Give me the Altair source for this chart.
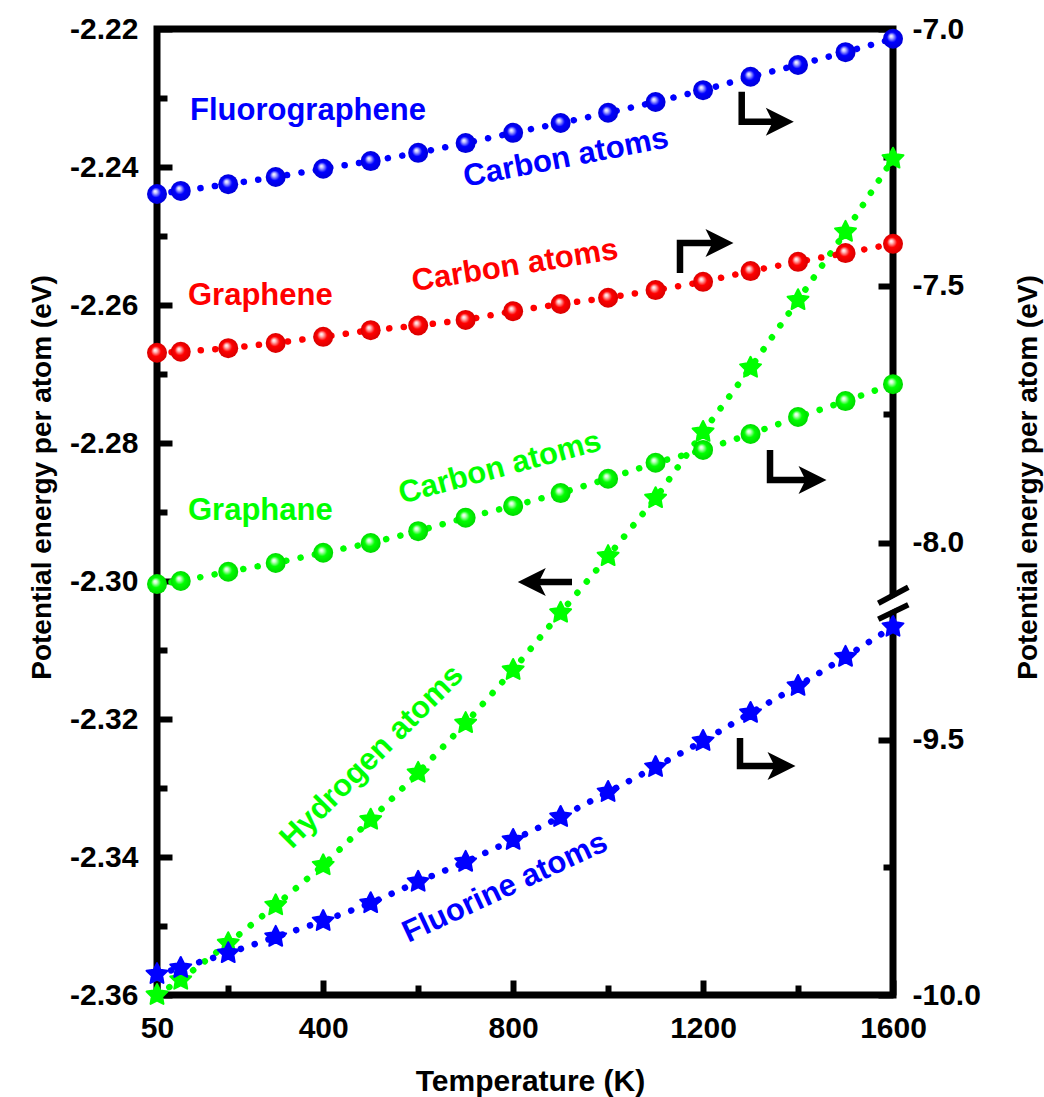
import altair as alt
import pandas as pd

# ---------------- data ----------------
T = [50, 100, 200, 300, 400, 500, 600, 700, 800, 900, 1000, 1100, 1200, 1300, 1400, 1500, 1600]
fluorographene_C = [-7.321, -7.315, -7.302, -7.288, -7.272, -7.257, -7.241, -7.222, -7.202,
                    -7.183, -7.163, -7.142, -7.119, -7.093, -7.070, -7.045, -7.019]
graphene_C = [-7.630, -7.628, -7.621, -7.611, -7.599, -7.586, -7.577, -7.566, -7.549,
              -7.535, -7.523, -7.508, -7.492, -7.471, -7.453, -7.436, -7.418]
graphane_C = [-8.080, -8.074, -8.056, -8.039, -8.019, -8.000, -7.977, -7.951, -7.928,
              -7.903, -7.875, -7.844, -7.819, -7.788, -7.755, -7.724, -7.691]
graphane_H = [-2.3600, -2.3578, -2.3525, -2.3470, -2.3412, -2.3346, -2.3278, -2.3206, -2.3129,
              -2.3046, -2.2964, -2.2880, -2.2784, -2.2691, -2.2593, -2.2494, -2.2388]
fluorographene_F = [-9.959, -9.947, -9.918, -9.886, -9.855, -9.820, -9.778, -9.739, -9.696,
                    -9.651, -9.602, -9.553, -9.502, -9.447, -9.394, -9.337, -9.278]

x_ticks_major = [50, 400, 800, 1200, 1600]
x_ticks_minor = [200, 600, 1000, 1400]
yl_ticks_major = [-2.36, -2.34, -2.32, -2.30, -2.28, -2.26, -2.24, -2.22]
yl_ticks_minor = [-2.35, -2.33, -2.31, -2.29, -2.27, -2.25, -2.23]
yr_top_major = [-8.0, -7.5, -7.0]
yr_top_minor = [-7.75, -7.25]
yr_bot_major = [-10.0, -9.5]
yr_bot_minor = [-9.75]

BLUE, RED, GREEN = "#0000ff", "#ff0000", "#00ff00"

# horizontal labels (left-axis coordinates)
hlab_text = ["Fluorographene", "Graphene", "Graphane"]
hlab_x = [119.5, 115.3, 115.3]
hlab_y = [-2.2332, -2.2600, -2.2912]
hlab_color = [BLUE, RED, GREEN]

# rotated labels (centre, left-axis coordinates)
rlab_text = ["Carbon atoms", "Carbon atoms", "Carbon atoms", "Hydrogen atoms", "Fluorine atoms"]
rlab_x = [911.3, 803.9, 772.3, 502.8, 782.9]
rlab_y = [-2.2387, -2.25435, -2.28362, -2.32551, -2.34449]
rlab_angle = [349, 351, 345, 315, 335]
rlab_color = [BLUE, RED, GREEN, GREEN, BLUE]

# arrows (polylines + heads, left-axis coordinates)
arrow_id = ["a", "a", "a", "b", "b", "b", "c", "c", "c", "d", "d", "e", "e", "e"]
arrow_ord = [0, 1, 2, 0, 1, 2, 0, 1, 2, 0, 1, 0, 1, 2]
arrow_x = [1281.4, 1281.4, 1361.6, 1151.4, 1151.4, 1234.6, 1341.0, 1341.0, 1430.5,
           924.0, 839.3, 1277.8, 1277.8, 1365.2]
arrow_y = [-2.22909, -2.23343, -2.23343, -2.25536, -2.25101, -2.25101, -2.28101, -2.28536, -2.28536,
           -2.30014, -2.30014, -2.32275, -2.32681, -2.32681]
head_x = [1361.6, 1234.6, 1430.5, 839.3, 1365.2]
head_y = [-2.23343, -2.25101, -2.28536, -2.30014, -2.32681]
head_angle = [0, 0, 0, 180, 0]

# axis-break marks (left-axis coordinates)
brk_id = ["w", "w", "u", "u", "l", "l"]
brk_x = [1569.0, 1632.2, 1569.0, 1632.2, 1569.0, 1632.2]
brk_y = [-2.30439, -2.30217, -2.30323, -2.30091, -2.30555, -2.30343]

# ---------------- tables ----------------
df = pd.DataFrame({"T": T, "flg": fluorographene_C, "gr": graphene_C, "gn": graphane_C,
                   "h": graphane_H, "f": fluorographene_F})
df_hlab = pd.DataFrame({"T": hlab_x, "v": hlab_y, "txt": hlab_text, "col": hlab_color})
df_rlab = pd.DataFrame({"T": rlab_x, "v": rlab_y, "txt": rlab_text, "col": rlab_color, "ang": rlab_angle})
df_arrow = pd.DataFrame({"id": arrow_id, "o": arrow_ord, "T": arrow_x, "v": arrow_y})
df_head = pd.DataFrame({"T": head_x, "v": head_y, "ang": head_angle})
df_brk = pd.DataFrame({"id": brk_id, "T": brk_x, "v": brk_y})

# ---------------- styling ----------------
FONT = "Liberation Sans"
W, H = 736, 966
BREAK_PX = 571
LEFT_DOM = [-2.36, -2.22]
TOP_DOM, TOP_RNG = [-8.111, -7.0], [BREAK_PX, 0]
BOT_DOM, BOT_RNG = [-10.0, -9.2255], [H, BREAK_PX]

STAR = ("M0,-1L0.294,-0.405L0.951,-0.309L0.476,0.155L0.588,0.809L0,0.5L-0.588,0.809"
        "L-0.476,0.155L-0.951,-0.309L-0.294,-0.405Z")
ARROW = "M1,0L-1,-1L-0.5,0L-1,1Z"

common = dict(domain=False, grid=False, tickColor="black", tickWidth=6,
              labelFont=FONT, labelFontWeight="bold", labelFontSize=30, labelColor="black",
              titleFont=FONT, titleFontWeight="bold", titleColor="black")

x_major = alt.Axis(orient="bottom", values=x_ticks_major, format="d", tickSize=15, offset=-15,
                   labelPadding=42, labelBaseline="alphabetic", labelFlush=False, labelOverlap=False,
                   title="Temperature (K)", titleFontSize=30, titleX=373, titleY=110,
                   titleAlign="center", titleBaseline="alphabetic", **common)
x_minor = alt.Axis(orient="bottom", values=x_ticks_minor, tickSize=10, offset=-10, labels=False,
                   title=None, **common)
yl_major = alt.Axis(orient="left", values=yl_ticks_major,
                    labelExpr="'-' + format(abs(datum.value), '.2f')",
                    tickSize=15, offset=-15, labelPadding=19, labelOverlap=False, labelFlush=False,
                    title="Potential energy per atom (eV)", titleFontSize=28, titleAngle=270,
                    titleX=-122, titleY=448, titleAlign="center", titleBaseline="alphabetic", **common)
yl_minor = alt.Axis(orient="left", values=yl_ticks_minor, tickSize=10, offset=-10, labels=False,
                    title=None, **common)
yr_tmajor = alt.Axis(orient="right", values=yr_top_major,
                     labelExpr="'-' + format(abs(datum.value), '.1f')",
                     tickSize=15, offset=-15, labelPadding=19, labelOverlap=False, labelFlush=False,
                     title="Potential energy per atom (eV)", titleFontSize=28, titleAngle=270,
                     titleX=158, titleY=448, titleAlign="center", titleBaseline="alphabetic", **common)
yr_tminor = alt.Axis(orient="right", values=yr_top_minor, tickSize=10, offset=-10, labels=False,
                     title=None, **common)
yr_bmajor = alt.Axis(orient="right", values=yr_bot_major,
                     labelExpr="'-' + format(abs(datum.value), '.1f')",
                     tickSize=15, offset=-15, labelPadding=19, labelOverlap=False, labelFlush=False,
                     title=None, **common)
yr_bminor = alt.Axis(orient="right", values=yr_bot_minor, tickSize=10, offset=-10, labels=False,
                     title=None, **common)


def ex(axis=None):
    return alt.X("T:Q", scale=alt.Scale(domain=[50, 1600], nice=False, zero=False), axis=axis)


def ey(field, dom, rng=None, axis=None):
    if rng is None:
        sc = alt.Scale(domain=dom, nice=False, zero=False)
    else:
        sc = alt.Scale(domain=dom, range=rng, nice=False, zero=False)
    return alt.Y(field + ":Q", scale=sc, axis=axis)


def dotted(color):
    return dict(color=color, strokeWidth=6.5, strokeDash=[0.1, 14.5], strokeCap="round")


def sphere(c, light, edge):
    return {"gradient": "radial", "x1": 0.4, "y1": 0.36, "r1": 0, "x2": 0.5, "y2": 0.5, "r2": 0.5,
            "stops": [{"offset": 0, "color": "#ffffff"}, {"offset": 0.16, "color": light},
                      {"offset": 0.5, "color": c}, {"offset": 1, "color": edge}]}


def circles(field, c, light, edge, axis=None):
    return alt.Chart(df).mark_point(shape="circle", filled=True, size=400, opacity=1,
                                    fill=sphere(c, light, edge), strokeWidth=0).encode(
        x=ex(), y=ey(field, TOP_DOM, TOP_RNG, axis))


def stars(c):
    return alt.Chart(df).mark_point(shape=STAR, filled=True, size=484, opacity=1, color=c,
                                    stroke=c, strokeWidth=2, strokeJoin="round")


layers = [
    alt.Chart(df).mark_line(**dotted(GREEN)).encode(x=ex(x_major), y=ey("h", LEFT_DOM, axis=yl_major)),
    alt.Chart(df).mark_line(**dotted(BLUE)).encode(x=ex(), y=ey("flg", TOP_DOM, TOP_RNG, yr_tmajor)),
    alt.Chart(df).mark_line(**dotted(RED)).encode(x=ex(), y=ey("gr", TOP_DOM, TOP_RNG)),
    alt.Chart(df).mark_line(**dotted(GREEN)).encode(x=ex(), y=ey("gn", TOP_DOM, TOP_RNG)),
    alt.Chart(df).mark_line(**dotted(BLUE)).encode(x=ex(), y=ey("f", BOT_DOM, BOT_RNG, yr_bmajor)),
    circles("flg", BLUE, "#c8c8ff", "#0000d8", yr_tminor),
    circles("gr", RED, "#ffc8c8", "#d80000"),
    circles("gn", GREEN, "#d0ffd0", "#00d800"),
    stars(GREEN).encode(x=ex(x_minor), y=ey("h", LEFT_DOM, axis=yl_minor)),
    stars(BLUE).encode(x=ex(), y=ey("f", BOT_DOM, BOT_RNG, yr_bminor)),
    alt.Chart(df_hlab).mark_text(align="left", baseline="alphabetic", font=FONT, fontWeight="bold",
                                 fontSize=31).encode(
        x=ex(), y=ey("v", LEFT_DOM), text="txt:N", color=alt.Color("col:N", scale=None)),
    alt.Chart(df_rlab).mark_text(align="center", baseline="middle", font=FONT, fontWeight="bold",
                                 fontSize=31).encode(
        x=ex(), y=ey("v", LEFT_DOM), text="txt:N", color=alt.Color("col:N", scale=None),
        angle=alt.Angle("ang:Q", scale=None)),
    alt.Chart(df_arrow).mark_line(color="black", strokeWidth=6.5, strokeJoin="miter", strokeCap="butt").encode(
        x=ex(), y=ey("v", LEFT_DOM), detail="id:N", order="o:Q"),
    alt.Chart(df_head).mark_point(shape=ARROW, filled=True, size=784, opacity=1, color="black").encode(
        x=ex(), y=ey("v", LEFT_DOM), angle=alt.Angle("ang:Q", scale=None)),
    alt.Chart(df_brk).transform_filter("datum.id == 'w'").mark_line(color="white", strokeWidth=10).encode(
        x=ex(), y=ey("v", LEFT_DOM), detail="id:N"),
    alt.Chart(df_brk).transform_filter("datum.id != 'w'").mark_line(color="black", strokeWidth=5.5).encode(
        x=ex(), y=ey("v", LEFT_DOM), detail="id:N"),
]

chart = (
    alt.layer(*layers)
    .resolve_scale(x="independent", y="independent")
    .resolve_axis(x="independent", y="independent")
    .properties(width=W, height=H, autosize=alt.AutoSizeParams(type="none"),
                padding={"left": 157, "top": 29, "right": 151, "bottom": 102},
                background="white")
    .configure_view(stroke="black", strokeWidth=7)
)

chart.save("out.html", embed_options={"renderer": "svg", "actions": False})
